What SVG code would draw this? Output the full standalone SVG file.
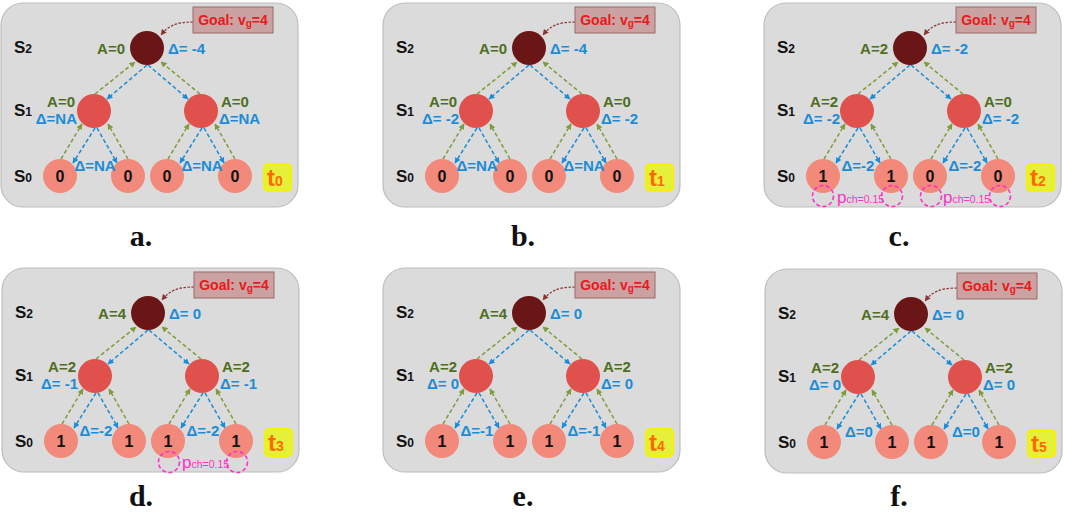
<svg xmlns="http://www.w3.org/2000/svg" width="1065" height="513" viewBox="0 0 1065 513">
<style>
.bg{fill:#ffffff}
.panel{fill:#dbdbdb;stroke:#bdbdbd;stroke-width:1.2}
.top{fill:#6b1616}
.mid{fill:#e0514d}
.leaf{fill:#f2897a}
text{font-family:"Liberation Sans",Arial,sans-serif;font-weight:bold}
.lvl{font-size:17px;fill:#111}
.lvls{font-size:12px}
.ga{font-size:15px;fill:#4f6e1e}
.bd{font-size:15px;fill:#1a8cd8}
.num{font-size:16px;fill:#111;text-anchor:middle}
.gl{stroke:#7d9c3c;stroke-width:1.5;stroke-dasharray:4 2.5;fill:none;marker-end:url(#ag)}
.bl{stroke:#1a8cd8;stroke-width:1.5;stroke-dasharray:4 2.5;fill:none;marker-end:url(#ab)}
.goalc{stroke:#8b3434;stroke-width:1.2;stroke-dasharray:2.5 1.5;fill:none;marker-end:url(#ar)}
.goalbox{fill:#caa2a2;stroke:#9a6a6a;stroke-width:1}
.goalt{font-size:14px;fill:#e8191b;text-anchor:middle}
.gs{font-size:10px}
.tbox{fill:#e4f03a;stroke:#f3f300;stroke-width:2}
.tt{font-size:24px;fill:#ff6a00}
.tts{font-size:14px}
.pink{fill:none;stroke:#ff2fc8;stroke-width:1.6;stroke-dasharray:4 2.5}
.pt{font-size:17px;fill:#ff2fc8;font-weight:normal}
.pts{font-size:10.5px}
.cap{font-family:"Liberation Serif","Times New Roman",serif;font-size:30px;fill:#111;text-anchor:middle}
</style>
<defs>
<marker id="ag" viewBox="0 0 10 10" refX="9" refY="5" markerWidth="4" markerHeight="4" orient="auto"><path d="M0,0 L10,5 L0,10 z" fill="#7d9c3c"/></marker>
<marker id="ab" viewBox="0 0 10 10" refX="9" refY="5" markerWidth="4" markerHeight="4" orient="auto"><path d="M0,0 L10,5 L0,10 z" fill="#1a8cd8"/></marker>
<marker id="ar" viewBox="0 0 10 10" refX="9" refY="5" markerWidth="5" markerHeight="5" orient="auto"><path d="M0,0 L10,5 L0,10 z" fill="#8b3434"/></marker>
</defs>
<rect class="bg" x="0" y="0" width="1065" height="513"/>

<!-- Panel a -->
<g id="panel-a" transform="translate(0,0)">
<rect class="panel" x="1" y="3" width="297" height="204" rx="22"/>
<text class="lvl" x="14" y="53">S<tspan class="lvls">2</tspan></text>
<text class="lvl" x="14" y="116">S<tspan class="lvls">1</tspan></text>
<text class="lvl" x="14" y="182">S<tspan class="lvls">0</tspan></text>
<g id="a-connectors">
<path class="gl" d="M95,94 L135,62"/><path class="bl" d="M147,65 L107,99"/><path class="bl" d="M148,65 L188,99"/><path class="gl" d="M200,94 L161,62"/>
<path class="gl" d="M61,159 L82,124"/><path class="bl" d="M95,128 L73,163"/><path class="bl" d="M97,128 L117,163"/><path class="gl" d="M128,159 L108,124"/>
<path class="gl" d="M168,159 L189,124"/><path class="bl" d="M202,128 L180,163"/><path class="bl" d="M204,128 L224,163"/><path class="gl" d="M235,159 L215,124"/>
<path class="goalc" d="M193,22 C176,22 168,26 161,35"/>
</g>
<g id="a-goal"><rect class="goalbox" x="193" y="7" width="80" height="26"/><text class="goalt" x="233" y="25">Goal: v<tspan class="gs" dy="2">g</tspan><tspan dy="-2">=4</tspan></text></g>
<g id="a-n2"><circle class="top" cx="147" cy="48" r="17"/><text class="ga" x="125" y="54" text-anchor="end">A=0</text><text class="bd" x="168" y="54">Δ= -4</text></g>
<g id="a-n1L"><circle class="mid" cx="94" cy="111" r="17"/><text class="ga" x="75" y="107" text-anchor="end">A=0</text><text class="bd" x="77" y="124" text-anchor="end">Δ=NA</text></g>
<g id="a-n1R"><circle class="mid" cx="201" cy="111" r="17"/><text class="ga" x="221" y="107">A=0</text><text class="bd" x="219" y="124">Δ=NA</text></g>
<g id="a-n0a"><circle class="leaf" cx="60" cy="176" r="17"/><text class="num" x="60" y="182">0</text></g>
<g id="a-n0b"><circle class="leaf" cx="128" cy="176" r="17"/><text class="num" x="128" y="182">0</text></g>
<g id="a-n0c"><circle class="leaf" cx="167" cy="176" r="17"/><text class="num" x="167" y="182">0</text></g>
<g id="a-n0d"><circle class="leaf" cx="235" cy="176" r="17"/><text class="num" x="235" y="182">0</text></g>
<text class="bd" x="95" y="171" text-anchor="middle">Δ=NA</text>
<text class="bd" x="202" y="171" text-anchor="middle">Δ=NA</text>
<g id="a-time"><rect class="tbox" x="264" y="164" width="27" height="27" rx="4"/><text class="tt" x="267" y="186">t<tspan class="tts">0</tspan></text></g>
</g>
<text class="cap" x="141" y="246">a.</text>

<!-- Panel b -->
<g id="panel-b" transform="translate(382,0)">
<rect class="panel" x="1" y="3" width="297" height="204" rx="22"/>
<text class="lvl" x="14" y="53">S<tspan class="lvls">2</tspan></text>
<text class="lvl" x="14" y="116">S<tspan class="lvls">1</tspan></text>
<text class="lvl" x="14" y="182">S<tspan class="lvls">0</tspan></text>
<g id="b-connectors">
<path class="gl" d="M95,94 L135,62"/><path class="bl" d="M147,65 L107,99"/><path class="bl" d="M148,65 L188,99"/><path class="gl" d="M200,94 L161,62"/>
<path class="gl" d="M61,159 L82,124"/><path class="bl" d="M95,128 L73,163"/><path class="bl" d="M97,128 L117,163"/><path class="gl" d="M128,159 L108,124"/>
<path class="gl" d="M168,159 L189,124"/><path class="bl" d="M202,128 L180,163"/><path class="bl" d="M204,128 L224,163"/><path class="gl" d="M235,159 L215,124"/>
<path class="goalc" d="M193,22 C176,22 168,26 161,35"/>
</g>
<g id="b-goal"><rect class="goalbox" x="193" y="7" width="80" height="26"/><text class="goalt" x="233" y="25">Goal: v<tspan class="gs" dy="2">g</tspan><tspan dy="-2">=4</tspan></text></g>
<g id="b-n2"><circle class="top" cx="147" cy="48" r="17"/><text class="ga" x="125" y="54" text-anchor="end">A=0</text><text class="bd" x="168" y="54">Δ= -4</text></g>
<g id="b-n1L"><circle class="mid" cx="94" cy="111" r="17"/><text class="ga" x="75" y="107" text-anchor="end">A=0</text><text class="bd" x="77" y="124" text-anchor="end">Δ= -2</text></g>
<g id="b-n1R"><circle class="mid" cx="201" cy="111" r="17"/><text class="ga" x="221" y="107">A=0</text><text class="bd" x="219" y="124">Δ= -2</text></g>
<g id="b-n0a"><circle class="leaf" cx="60" cy="176" r="17"/><text class="num" x="60" y="182">0</text></g>
<g id="b-n0b"><circle class="leaf" cx="128" cy="176" r="17"/><text class="num" x="128" y="182">0</text></g>
<g id="b-n0c"><circle class="leaf" cx="167" cy="176" r="17"/><text class="num" x="167" y="182">0</text></g>
<g id="b-n0d"><circle class="leaf" cx="235" cy="176" r="17"/><text class="num" x="235" y="182">0</text></g>
<text class="bd" x="95" y="171" text-anchor="middle">Δ=NA</text>
<text class="bd" x="202" y="171" text-anchor="middle">Δ=NA</text>
<g id="b-time"><rect class="tbox" x="264" y="164" width="27" height="27" rx="4"/><text class="tt" x="267" y="186">t<tspan class="tts">1</tspan></text></g>
</g>
<text class="cap" x="523" y="246">b.</text>

<!-- Panel c -->
<g id="panel-c" transform="translate(763,0)">
<rect class="panel" x="1" y="3" width="297" height="204" rx="22"/>
<text class="lvl" x="14" y="53">S<tspan class="lvls">2</tspan></text>
<text class="lvl" x="14" y="116">S<tspan class="lvls">1</tspan></text>
<text class="lvl" x="14" y="182">S<tspan class="lvls">0</tspan></text>
<g id="c-connectors">
<path class="gl" d="M95,94 L135,62"/><path class="bl" d="M147,65 L107,99"/><path class="bl" d="M148,65 L188,99"/><path class="gl" d="M200,94 L161,62"/>
<path class="gl" d="M61,159 L82,124"/><path class="bl" d="M95,128 L73,163"/><path class="bl" d="M97,128 L117,163"/><path class="gl" d="M128,159 L108,124"/>
<path class="gl" d="M168,159 L189,124"/><path class="bl" d="M202,128 L180,163"/><path class="bl" d="M204,128 L224,163"/><path class="gl" d="M235,159 L215,124"/>
<path class="goalc" d="M193,22 C176,22 168,26 161,35"/>
</g>
<g id="c-goal"><rect class="goalbox" x="193" y="7" width="80" height="26"/><text class="goalt" x="233" y="25">Goal: v<tspan class="gs" dy="2">g</tspan><tspan dy="-2">=4</tspan></text></g>
<g id="c-n2"><circle class="top" cx="147" cy="48" r="17"/><text class="ga" x="125" y="54" text-anchor="end">A=2</text><text class="bd" x="168" y="54">Δ= -2</text></g>
<g id="c-n1L"><circle class="mid" cx="94" cy="111" r="17"/><text class="ga" x="75" y="107" text-anchor="end">A=2</text><text class="bd" x="77" y="124" text-anchor="end">Δ= -2</text></g>
<g id="c-n1R"><circle class="mid" cx="201" cy="111" r="17"/><text class="ga" x="221" y="107">A=0</text><text class="bd" x="219" y="124">Δ= -2</text></g>
<g id="c-n0a"><circle class="leaf" cx="60" cy="176" r="17"/><text class="num" x="60" y="182">1</text></g>
<g id="c-n0b"><circle class="leaf" cx="128" cy="176" r="17"/><text class="num" x="128" y="182">1</text></g>
<g id="c-n0c"><circle class="leaf" cx="167" cy="176" r="17"/><text class="num" x="167" y="182">0</text></g>
<g id="c-n0d"><circle class="leaf" cx="235" cy="176" r="17"/><text class="num" x="235" y="182">0</text></g>
<text class="bd" x="95" y="171" text-anchor="middle">Δ=-2</text>
<text class="bd" x="202" y="171" text-anchor="middle">Δ=-2</text>
<g id="c-pch">
<circle class="pink" cx="60" cy="196" r="10.5"/><circle class="pink" cx="129" cy="196" r="10.5"/><circle class="pink" cx="168" cy="196" r="10.5"/><circle class="pink" cx="237" cy="196" r="10.5"/>
<text class="pt" x="74" y="203">p<tspan class="pts">ch=0.15</tspan></text>
<text class="pt" x="180" y="203">p<tspan class="pts">ch=0.15</tspan></text>
</g>
<g id="c-time"><rect class="tbox" x="264" y="164" width="27" height="27" rx="4"/><text class="tt" x="267" y="186">t<tspan class="tts">2</tspan></text></g>
</g>
<text class="cap" x="899" y="246">c.</text>

<!-- Panel d -->
<g id="panel-d" transform="translate(1,265)">
<rect class="panel" x="1" y="3" width="297" height="204" rx="22"/>
<text class="lvl" x="14" y="53">S<tspan class="lvls">2</tspan></text>
<text class="lvl" x="14" y="116">S<tspan class="lvls">1</tspan></text>
<text class="lvl" x="14" y="182">S<tspan class="lvls">0</tspan></text>
<g id="d-connectors">
<path class="gl" d="M95,94 L135,62"/><path class="bl" d="M147,65 L107,99"/><path class="bl" d="M148,65 L188,99"/><path class="gl" d="M200,94 L161,62"/>
<path class="gl" d="M61,159 L82,124"/><path class="bl" d="M95,128 L73,163"/><path class="bl" d="M97,128 L117,163"/><path class="gl" d="M128,159 L108,124"/>
<path class="gl" d="M168,159 L189,124"/><path class="bl" d="M202,128 L180,163"/><path class="bl" d="M204,128 L224,163"/><path class="gl" d="M235,159 L215,124"/>
<path class="goalc" d="M193,22 C176,22 168,26 161,35"/>
</g>
<g id="d-goal"><rect class="goalbox" x="193" y="7" width="80" height="26"/><text class="goalt" x="233" y="25">Goal: v<tspan class="gs" dy="2">g</tspan><tspan dy="-2">=4</tspan></text></g>
<g id="d-n2"><circle class="top" cx="147" cy="48" r="17"/><text class="ga" x="125" y="54" text-anchor="end">A=4</text><text class="bd" x="168" y="54">Δ= 0</text></g>
<g id="d-n1L"><circle class="mid" cx="94" cy="111" r="17"/><text class="ga" x="75" y="107" text-anchor="end">A=2</text><text class="bd" x="77" y="124" text-anchor="end">Δ= -1</text></g>
<g id="d-n1R"><circle class="mid" cx="201" cy="111" r="17"/><text class="ga" x="221" y="107">A=2</text><text class="bd" x="219" y="124">Δ= -1</text></g>
<g id="d-n0a"><circle class="leaf" cx="60" cy="176" r="17"/><text class="num" x="60" y="182">1</text></g>
<g id="d-n0b"><circle class="leaf" cx="128" cy="176" r="17"/><text class="num" x="128" y="182">1</text></g>
<g id="d-n0c"><circle class="leaf" cx="167" cy="176" r="17"/><text class="num" x="167" y="182">1</text></g>
<g id="d-n0d"><circle class="leaf" cx="235" cy="176" r="17"/><text class="num" x="235" y="182">1</text></g>
<text class="bd" x="95" y="171" text-anchor="middle">Δ=-2</text>
<text class="bd" x="202" y="171" text-anchor="middle">Δ=-2</text>
<g id="d-pch">
<circle class="pink" cx="168" cy="197" r="10.5"/><circle class="pink" cx="236" cy="197" r="10.5"/>
<text class="pt" x="181" y="203">p<tspan class="pts">ch=0.15</tspan></text>
</g>
<g id="d-time"><rect class="tbox" x="264" y="164" width="27" height="27" rx="4"/><text class="tt" x="267" y="186">t<tspan class="tts">3</tspan></text></g>
</g>
<text class="cap" x="141" y="506">d.</text>

<!-- Panel e -->
<g id="panel-e" transform="translate(382,265)">
<rect class="panel" x="1" y="3" width="297" height="204" rx="22"/>
<text class="lvl" x="14" y="53">S<tspan class="lvls">2</tspan></text>
<text class="lvl" x="14" y="116">S<tspan class="lvls">1</tspan></text>
<text class="lvl" x="14" y="182">S<tspan class="lvls">0</tspan></text>
<g id="e-connectors">
<path class="gl" d="M95,94 L135,62"/><path class="bl" d="M147,65 L107,99"/><path class="bl" d="M148,65 L188,99"/><path class="gl" d="M200,94 L161,62"/>
<path class="gl" d="M61,159 L82,124"/><path class="bl" d="M95,128 L73,163"/><path class="bl" d="M97,128 L117,163"/><path class="gl" d="M128,159 L108,124"/>
<path class="gl" d="M168,159 L189,124"/><path class="bl" d="M202,128 L180,163"/><path class="bl" d="M204,128 L224,163"/><path class="gl" d="M235,159 L215,124"/>
<path class="goalc" d="M193,22 C176,22 168,26 161,35"/>
</g>
<g id="e-goal"><rect class="goalbox" x="193" y="7" width="80" height="26"/><text class="goalt" x="233" y="25">Goal: v<tspan class="gs" dy="2">g</tspan><tspan dy="-2">=4</tspan></text></g>
<g id="e-n2"><circle class="top" cx="147" cy="48" r="17"/><text class="ga" x="125" y="54" text-anchor="end">A=4</text><text class="bd" x="168" y="54">Δ= 0</text></g>
<g id="e-n1L"><circle class="mid" cx="94" cy="111" r="17"/><text class="ga" x="75" y="107" text-anchor="end">A=2</text><text class="bd" x="77" y="124" text-anchor="end">Δ= 0</text></g>
<g id="e-n1R"><circle class="mid" cx="201" cy="111" r="17"/><text class="ga" x="221" y="107">A=2</text><text class="bd" x="219" y="124">Δ= 0</text></g>
<g id="e-n0a"><circle class="leaf" cx="60" cy="176" r="17"/><text class="num" x="60" y="182">1</text></g>
<g id="e-n0b"><circle class="leaf" cx="128" cy="176" r="17"/><text class="num" x="128" y="182">1</text></g>
<g id="e-n0c"><circle class="leaf" cx="167" cy="176" r="17"/><text class="num" x="167" y="182">1</text></g>
<g id="e-n0d"><circle class="leaf" cx="235" cy="176" r="17"/><text class="num" x="235" y="182">1</text></g>
<text class="bd" x="95" y="171" text-anchor="middle">Δ=-1</text>
<text class="bd" x="202" y="171" text-anchor="middle">Δ=-1</text>
<g id="e-time"><rect class="tbox" x="264" y="164" width="27" height="27" rx="4"/><text class="tt" x="267" y="186">t<tspan class="tts">4</tspan></text></g>
</g>
<text class="cap" x="523" y="506">e.</text>

<!-- Panel f -->
<g id="panel-f" transform="translate(764,266)">
<rect class="panel" x="1" y="3" width="297" height="204" rx="22"/>
<text class="lvl" x="14" y="53">S<tspan class="lvls">2</tspan></text>
<text class="lvl" x="14" y="116">S<tspan class="lvls">1</tspan></text>
<text class="lvl" x="14" y="182">S<tspan class="lvls">0</tspan></text>
<g id="f-connectors">
<path class="gl" d="M95,94 L135,62"/><path class="bl" d="M147,65 L107,99"/><path class="bl" d="M148,65 L188,99"/><path class="gl" d="M200,94 L161,62"/>
<path class="gl" d="M61,159 L82,124"/><path class="bl" d="M95,128 L73,163"/><path class="bl" d="M97,128 L117,163"/><path class="gl" d="M128,159 L108,124"/>
<path class="gl" d="M168,159 L189,124"/><path class="bl" d="M202,128 L180,163"/><path class="bl" d="M204,128 L224,163"/><path class="gl" d="M235,159 L215,124"/>
<path class="goalc" d="M193,22 C176,22 168,26 161,35"/>
</g>
<g id="f-goal"><rect class="goalbox" x="193" y="7" width="80" height="26"/><text class="goalt" x="233" y="25">Goal: v<tspan class="gs" dy="2">g</tspan><tspan dy="-2">=4</tspan></text></g>
<g id="f-n2"><circle class="top" cx="147" cy="48" r="17"/><text class="ga" x="125" y="54" text-anchor="end">A=4</text><text class="bd" x="168" y="54">Δ= 0</text></g>
<g id="f-n1L"><circle class="mid" cx="94" cy="111" r="17"/><text class="ga" x="75" y="107" text-anchor="end">A=2</text><text class="bd" x="77" y="124" text-anchor="end">Δ= 0</text></g>
<g id="f-n1R"><circle class="mid" cx="201" cy="111" r="17"/><text class="ga" x="221" y="107">A=2</text><text class="bd" x="219" y="124">Δ= 0</text></g>
<g id="f-n0a"><circle class="leaf" cx="60" cy="176" r="17"/><text class="num" x="60" y="182">1</text></g>
<g id="f-n0b"><circle class="leaf" cx="128" cy="176" r="17"/><text class="num" x="128" y="182">1</text></g>
<g id="f-n0c"><circle class="leaf" cx="167" cy="176" r="17"/><text class="num" x="167" y="182">1</text></g>
<g id="f-n0d"><circle class="leaf" cx="235" cy="176" r="17"/><text class="num" x="235" y="182">1</text></g>
<text class="bd" x="95" y="171" text-anchor="middle">Δ=0</text>
<text class="bd" x="202" y="171" text-anchor="middle">Δ=0</text>
<g id="f-time"><rect class="tbox" x="264" y="164" width="27" height="27" rx="4"/><text class="tt" x="267" y="186">t<tspan class="tts">5</tspan></text></g>
</g>
<text class="cap" x="899" y="506">f.</text>
</svg>
